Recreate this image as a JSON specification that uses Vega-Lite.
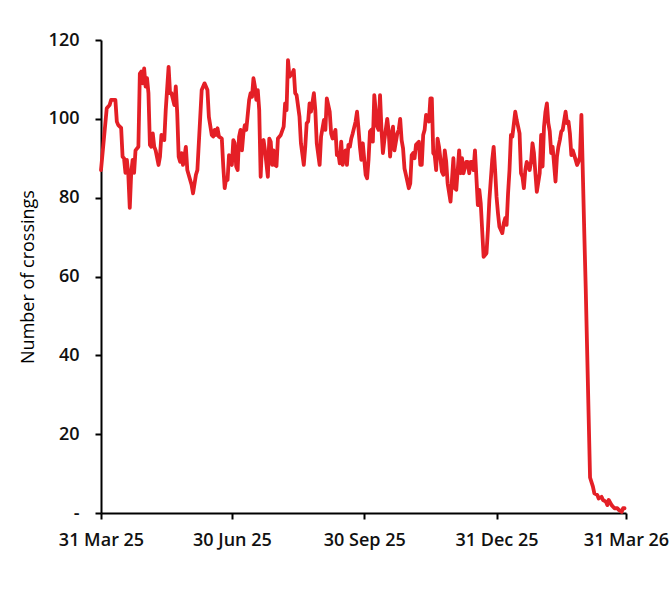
{
  "$schema": "https://vega.github.io/schema/vega-lite/v6.json",
  "autosize": {"type": "none"},
  "width": 525,
  "height": 473,
  "padding": {"left": 101, "top": 40, "right": 44, "bottom": 82},
  "background": "white",
  "config": {
    "view": {"stroke": null},
    "font": "Open Sans",
    "axis": {
      "grid": false,
      "domainColor": "#000000",
      "domainWidth": 2,
      "tickColor": "#000000",
      "tickWidth": 2,
      "tickSize": 6,
      "labelFont": "Open Sans",
      "labelFontSize": 18,
      "labelFontWeight": 600,
      "labelColor": "#111111",
      "titleFont": "Open Sans",
      "titleFontSize": 18,
      "titleFontWeight": "normal",
      "titleColor": "#000000"
    }
  },
  "data": {
    "values": [
      {"date": "2025-03-31", "crossings": 87},
      {"date": "2025-04-04", "crossings": 102.7},
      {"date": "2025-04-06", "crossings": 103.5},
      {"date": "2025-04-07", "crossings": 104.8},
      {"date": "2025-04-10", "crossings": 104.8},
      {"date": "2025-04-11", "crossings": 99.3},
      {"date": "2025-04-12", "crossings": 98.4},
      {"date": "2025-04-14", "crossings": 97.7},
      {"date": "2025-04-15", "crossings": 90.4},
      {"date": "2025-04-16", "crossings": 90},
      {"date": "2025-04-17", "crossings": 86.3},
      {"date": "2025-04-18", "crossings": 89.6},
      {"date": "2025-04-19", "crossings": 85.8},
      {"date": "2025-04-20", "crossings": 77.4},
      {"date": "2025-04-21", "crossings": 86.3},
      {"date": "2025-04-22", "crossings": 89.6},
      {"date": "2025-04-23", "crossings": 86.3},
      {"date": "2025-04-24", "crossings": 92},
      {"date": "2025-04-26", "crossings": 92.9},
      {"date": "2025-04-27", "crossings": 111.5},
      {"date": "2025-04-28", "crossings": 112},
      {"date": "2025-04-29", "crossings": 109},
      {"date": "2025-04-30", "crossings": 112.8},
      {"date": "2025-05-01", "crossings": 108.2},
      {"date": "2025-05-02", "crossings": 110.3},
      {"date": "2025-05-03", "crossings": 106.5},
      {"date": "2025-05-04", "crossings": 93.4},
      {"date": "2025-05-05", "crossings": 92.9},
      {"date": "2025-05-06", "crossings": 96.3},
      {"date": "2025-05-07", "crossings": 92.9},
      {"date": "2025-05-08", "crossings": 92},
      {"date": "2025-05-10", "crossings": 88.3},
      {"date": "2025-05-11", "crossings": 90.4},
      {"date": "2025-05-12", "crossings": 95.9},
      {"date": "2025-05-14", "crossings": 94.6},
      {"date": "2025-05-15", "crossings": 102.2},
      {"date": "2025-05-17", "crossings": 113.2},
      {"date": "2025-05-18", "crossings": 106.5},
      {"date": "2025-05-19", "crossings": 106.5},
      {"date": "2025-05-21", "crossings": 103.5},
      {"date": "2025-05-22", "crossings": 108.2},
      {"date": "2025-05-23", "crossings": 101.4},
      {"date": "2025-05-24", "crossings": 90.4},
      {"date": "2025-05-25", "crossings": 89.1},
      {"date": "2025-05-26", "crossings": 91.3},
      {"date": "2025-05-27", "crossings": 88.3},
      {"date": "2025-05-28", "crossings": 90.4},
      {"date": "2025-05-29", "crossings": 92.9},
      {"date": "2025-05-30", "crossings": 87},
      {"date": "2025-06-02", "crossings": 83.2},
      {"date": "2025-06-03", "crossings": 81.1},
      {"date": "2025-06-05", "crossings": 85.8},
      {"date": "2025-06-06", "crossings": 87},
      {"date": "2025-06-08", "crossings": 100.5},
      {"date": "2025-06-09", "crossings": 107.3},
      {"date": "2025-06-11", "crossings": 109},
      {"date": "2025-06-13", "crossings": 107.3},
      {"date": "2025-06-14", "crossings": 100.5},
      {"date": "2025-06-16", "crossings": 95.9},
      {"date": "2025-06-17", "crossings": 95.5},
      {"date": "2025-06-18", "crossings": 97.2},
      {"date": "2025-06-19", "crossings": 95.9},
      {"date": "2025-06-20", "crossings": 97.6},
      {"date": "2025-06-21", "crossings": 95.5},
      {"date": "2025-06-23", "crossings": 95},
      {"date": "2025-06-24", "crossings": 87.9},
      {"date": "2025-06-25", "crossings": 82.4},
      {"date": "2025-06-26", "crossings": 84.9},
      {"date": "2025-06-27", "crossings": 84.5},
      {"date": "2025-06-28", "crossings": 90.8},
      {"date": "2025-06-30", "crossings": 88.3},
      {"date": "2025-07-01", "crossings": 94.6},
      {"date": "2025-07-02", "crossings": 93.8},
      {"date": "2025-07-03", "crossings": 87.9},
      {"date": "2025-07-04", "crossings": 87},
      {"date": "2025-07-05", "crossings": 95.5},
      {"date": "2025-07-06", "crossings": 97.2},
      {"date": "2025-07-07", "crossings": 92},
      {"date": "2025-07-08", "crossings": 96.3},
      {"date": "2025-07-09", "crossings": 98.4},
      {"date": "2025-07-10", "crossings": 97.2},
      {"date": "2025-07-12", "crossings": 104.8},
      {"date": "2025-07-13", "crossings": 106.5},
      {"date": "2025-07-14", "crossings": 105.6},
      {"date": "2025-07-15", "crossings": 110.3},
      {"date": "2025-07-16", "crossings": 108.2},
      {"date": "2025-07-17", "crossings": 104.8},
      {"date": "2025-07-18", "crossings": 107.3},
      {"date": "2025-07-19", "crossings": 102.2},
      {"date": "2025-07-20", "crossings": 85.3},
      {"date": "2025-07-21", "crossings": 94.2},
      {"date": "2025-07-22", "crossings": 94.6},
      {"date": "2025-07-23", "crossings": 92},
      {"date": "2025-07-25", "crossings": 85.3},
      {"date": "2025-07-26", "crossings": 95},
      {"date": "2025-07-27", "crossings": 94.2},
      {"date": "2025-07-28", "crossings": 88.3},
      {"date": "2025-07-29", "crossings": 92},
      {"date": "2025-07-30", "crossings": 88.3},
      {"date": "2025-07-31", "crossings": 88},
      {"date": "2025-08-01", "crossings": 95},
      {"date": "2025-08-03", "crossings": 95.9},
      {"date": "2025-08-05", "crossings": 98},
      {"date": "2025-08-06", "crossings": 103.9},
      {"date": "2025-08-07", "crossings": 102.2},
      {"date": "2025-08-08", "crossings": 114.9},
      {"date": "2025-08-09", "crossings": 110.7},
      {"date": "2025-08-11", "crossings": 111.5},
      {"date": "2025-08-12", "crossings": 112.4},
      {"date": "2025-08-13", "crossings": 106.5},
      {"date": "2025-08-14", "crossings": 106},
      {"date": "2025-08-16", "crossings": 100.5},
      {"date": "2025-08-17", "crossings": 93.8},
      {"date": "2025-08-19", "crossings": 88.3},
      {"date": "2025-08-20", "crossings": 92.9},
      {"date": "2025-08-21", "crossings": 98.9},
      {"date": "2025-08-22", "crossings": 99.3},
      {"date": "2025-08-23", "crossings": 103.9},
      {"date": "2025-08-24", "crossings": 101.8},
      {"date": "2025-08-26", "crossings": 106.5},
      {"date": "2025-08-27", "crossings": 102.2},
      {"date": "2025-08-28", "crossings": 93.8},
      {"date": "2025-08-30", "crossings": 88.3},
      {"date": "2025-08-31", "crossings": 95.5},
      {"date": "2025-09-02", "crossings": 99.7},
      {"date": "2025-09-03", "crossings": 97.2},
      {"date": "2025-09-04", "crossings": 105.2},
      {"date": "2025-09-06", "crossings": 101.8},
      {"date": "2025-09-07", "crossings": 96.3},
      {"date": "2025-09-08", "crossings": 95},
      {"date": "2025-09-10", "crossings": 97.2},
      {"date": "2025-09-11", "crossings": 90.8},
      {"date": "2025-09-12", "crossings": 91.3},
      {"date": "2025-09-13", "crossings": 88.7},
      {"date": "2025-09-14", "crossings": 94.2},
      {"date": "2025-09-15", "crossings": 88.3},
      {"date": "2025-09-17", "crossings": 92},
      {"date": "2025-09-18", "crossings": 88.3},
      {"date": "2025-09-19", "crossings": 93.4},
      {"date": "2025-09-20", "crossings": 92.9},
      {"date": "2025-09-21", "crossings": 95},
      {"date": "2025-09-22", "crossings": 96.3},
      {"date": "2025-09-24", "crossings": 99.3},
      {"date": "2025-09-25", "crossings": 101.8},
      {"date": "2025-09-26", "crossings": 97.6},
      {"date": "2025-09-27", "crossings": 92.9},
      {"date": "2025-09-28", "crossings": 89.6},
      {"date": "2025-09-29", "crossings": 93.8},
      {"date": "2025-10-01", "crossings": 85.8},
      {"date": "2025-10-02", "crossings": 84.9},
      {"date": "2025-10-03", "crossings": 89.6},
      {"date": "2025-10-04", "crossings": 96.8},
      {"date": "2025-10-05", "crossings": 97.2},
      {"date": "2025-10-06", "crossings": 94.2},
      {"date": "2025-10-07", "crossings": 106},
      {"date": "2025-10-09", "crossings": 98},
      {"date": "2025-10-10", "crossings": 97.2},
      {"date": "2025-10-11", "crossings": 106},
      {"date": "2025-10-12", "crossings": 97.2},
      {"date": "2025-10-13", "crossings": 91.3},
      {"date": "2025-10-14", "crossings": 94.6},
      {"date": "2025-10-16", "crossings": 100},
      {"date": "2025-10-17", "crossings": 96.8},
      {"date": "2025-10-18", "crossings": 90.4},
      {"date": "2025-10-19", "crossings": 95.5},
      {"date": "2025-10-20", "crossings": 98},
      {"date": "2025-10-21", "crossings": 92},
      {"date": "2025-10-23", "crossings": 96.3},
      {"date": "2025-10-24", "crossings": 97.2},
      {"date": "2025-10-25", "crossings": 100},
      {"date": "2025-10-26", "crossings": 94.6},
      {"date": "2025-10-27", "crossings": 92.5},
      {"date": "2025-10-28", "crossings": 87.4},
      {"date": "2025-10-29", "crossings": 85.8},
      {"date": "2025-10-31", "crossings": 82.4},
      {"date": "2025-11-01", "crossings": 83.6},
      {"date": "2025-11-02", "crossings": 90.8},
      {"date": "2025-11-03", "crossings": 91.3},
      {"date": "2025-11-04", "crossings": 90},
      {"date": "2025-11-05", "crossings": 93.4},
      {"date": "2025-11-07", "crossings": 94.2},
      {"date": "2025-11-08", "crossings": 88.3},
      {"date": "2025-11-09", "crossings": 88.3},
      {"date": "2025-11-10", "crossings": 95.9},
      {"date": "2025-11-11", "crossings": 97.2},
      {"date": "2025-11-12", "crossings": 101},
      {"date": "2025-11-14", "crossings": 99.3},
      {"date": "2025-11-15", "crossings": 105.2},
      {"date": "2025-11-16", "crossings": 105.2},
      {"date": "2025-11-17", "crossings": 91.3},
      {"date": "2025-11-18", "crossings": 90.8},
      {"date": "2025-11-19", "crossings": 87},
      {"date": "2025-11-20", "crossings": 95},
      {"date": "2025-11-21", "crossings": 92.9},
      {"date": "2025-11-23", "crossings": 86.6},
      {"date": "2025-11-24", "crossings": 85.8},
      {"date": "2025-11-25", "crossings": 92},
      {"date": "2025-11-26", "crossings": 89.1},
      {"date": "2025-11-27", "crossings": 83.6},
      {"date": "2025-11-29", "crossings": 79},
      {"date": "2025-11-30", "crossings": 84.5},
      {"date": "2025-12-01", "crossings": 90},
      {"date": "2025-12-02", "crossings": 82.4},
      {"date": "2025-12-03", "crossings": 82},
      {"date": "2025-12-05", "crossings": 92},
      {"date": "2025-12-06", "crossings": 86.2},
      {"date": "2025-12-07", "crossings": 90},
      {"date": "2025-12-08", "crossings": 86.2},
      {"date": "2025-12-10", "crossings": 89.1},
      {"date": "2025-12-11", "crossings": 89.1},
      {"date": "2025-12-12", "crossings": 86.2},
      {"date": "2025-12-13", "crossings": 89.1},
      {"date": "2025-12-14", "crossings": 89.1},
      {"date": "2025-12-15", "crossings": 87},
      {"date": "2025-12-16", "crossings": 92},
      {"date": "2025-12-18", "crossings": 78.1},
      {"date": "2025-12-19", "crossings": 82},
      {"date": "2025-12-20", "crossings": 78.6},
      {"date": "2025-12-21", "crossings": 71.8},
      {"date": "2025-12-22", "crossings": 65},
      {"date": "2025-12-24", "crossings": 65.9},
      {"date": "2025-12-25", "crossings": 71.8},
      {"date": "2025-12-26", "crossings": 79.4},
      {"date": "2025-12-28", "crossings": 89.6},
      {"date": "2025-12-29", "crossings": 92.9},
      {"date": "2025-12-30", "crossings": 87},
      {"date": "2025-12-31", "crossings": 80.2},
      {"date": "2026-01-01", "crossings": 76},
      {"date": "2026-01-02", "crossings": 72.6},
      {"date": "2026-01-04", "crossings": 71},
      {"date": "2026-01-05", "crossings": 73.5},
      {"date": "2026-01-06", "crossings": 74.8},
      {"date": "2026-01-07", "crossings": 73.1},
      {"date": "2026-01-08", "crossings": 81.1},
      {"date": "2026-01-09", "crossings": 87},
      {"date": "2026-01-10", "crossings": 95.9},
      {"date": "2026-01-11", "crossings": 95.5},
      {"date": "2026-01-13", "crossings": 101.8},
      {"date": "2026-01-14", "crossings": 99.7},
      {"date": "2026-01-15", "crossings": 98},
      {"date": "2026-01-16", "crossings": 96.3},
      {"date": "2026-01-17", "crossings": 86.2},
      {"date": "2026-01-18", "crossings": 85.3},
      {"date": "2026-01-19", "crossings": 82.4},
      {"date": "2026-01-20", "crossings": 87},
      {"date": "2026-01-21", "crossings": 89.1},
      {"date": "2026-01-23", "crossings": 87},
      {"date": "2026-01-24", "crossings": 89.1},
      {"date": "2026-01-25", "crossings": 93.8},
      {"date": "2026-01-26", "crossings": 91.3},
      {"date": "2026-01-27", "crossings": 86.2},
      {"date": "2026-01-28", "crossings": 81.5},
      {"date": "2026-01-30", "crossings": 86.2},
      {"date": "2026-01-31", "crossings": 95.9},
      {"date": "2026-02-01", "crossings": 87.9},
      {"date": "2026-02-02", "crossings": 98},
      {"date": "2026-02-03", "crossings": 101.8},
      {"date": "2026-02-04", "crossings": 103.9},
      {"date": "2026-02-05", "crossings": 98.9},
      {"date": "2026-02-06", "crossings": 96.8},
      {"date": "2026-02-07", "crossings": 91.3},
      {"date": "2026-02-08", "crossings": 92.9},
      {"date": "2026-02-10", "crossings": 84.1},
      {"date": "2026-02-11", "crossings": 90.4},
      {"date": "2026-02-12", "crossings": 92.9},
      {"date": "2026-02-13", "crossings": 94.6},
      {"date": "2026-02-14", "crossings": 96.8},
      {"date": "2026-02-15", "crossings": 97.2},
      {"date": "2026-02-17", "crossings": 101.8},
      {"date": "2026-02-18", "crossings": 98.9},
      {"date": "2026-02-19", "crossings": 99.3},
      {"date": "2026-02-20", "crossings": 96.3},
      {"date": "2026-02-21", "crossings": 90.8},
      {"date": "2026-02-22", "crossings": 92},
      {"date": "2026-02-24", "crossings": 89.6},
      {"date": "2026-02-25", "crossings": 88.3},
      {"date": "2026-02-26", "crossings": 89.1},
      {"date": "2026-02-27", "crossings": 90.4},
      {"date": "2026-02-28", "crossings": 101},
      {"date": "2026-03-01", "crossings": 86},
      {"date": "2026-03-02", "crossings": 71},
      {"date": "2026-03-03", "crossings": 57},
      {"date": "2026-03-04", "crossings": 41},
      {"date": "2026-03-05", "crossings": 25},
      {"date": "2026-03-06", "crossings": 9},
      {"date": "2026-03-08", "crossings": 6.7},
      {"date": "2026-03-09", "crossings": 5},
      {"date": "2026-03-11", "crossings": 4.6},
      {"date": "2026-03-12", "crossings": 3.7},
      {"date": "2026-03-14", "crossings": 4.1},
      {"date": "2026-03-15", "crossings": 3.3},
      {"date": "2026-03-17", "crossings": 2.9},
      {"date": "2026-03-18", "crossings": 2},
      {"date": "2026-03-19", "crossings": 3.3},
      {"date": "2026-03-21", "crossings": 2},
      {"date": "2026-03-22", "crossings": 1.6},
      {"date": "2026-03-23", "crossings": 1.2},
      {"date": "2026-03-25", "crossings": 1.2},
      {"date": "2026-03-26", "crossings": 0.8},
      {"date": "2026-03-28", "crossings": 0.3},
      {"date": "2026-03-29", "crossings": 1.2},
      {"date": "2026-03-30", "crossings": 1.2}
    ]
  },
  "mark": {"type": "line", "color": "#e41f26", "strokeWidth": 3.8, "strokeJoin": "round", "strokeCap": "round", "clip": false},
  "encoding": {
    "x": {
      "field": "date",
      "type": "temporal",
      "scale": {
        "type": "utc",
        "domain": [
          {"year": 2025, "month": 3, "date": 31, "utc": true},
          {"year": 2026, "month": 3, "date": 31, "utc": true}
        ]
      },
      "axis": {
        "title": null,
        "labelExpr": "utcFormat(datum.value, '%d %b %y')",
        "values": [
          {"year": 2025, "month": 3, "date": 31, "utc": true},
          {"year": 2025, "month": 6, "date": 30, "utc": true},
          {"year": 2025, "month": 9, "date": 30, "utc": true},
          {"year": 2025, "month": 12, "date": 31, "utc": true},
          {"year": 2026, "month": 3, "date": 31, "utc": true}
        ],
        "labelPadding": 12,
        "labelFlush": false,
        "labelOverlap": false
      }
    },
    "y": {
      "field": "crossings",
      "type": "quantitative",
      "scale": {"domain": [0, 120], "nice": false, "zero": true},
      "axis": {
        "title": "Number of crossings",
        "values": [0, 20, 40, 60, 80, 100, 120],
        "labelExpr": "datum.value === 0 ? '-' : datum.label",
        "labelPadding": 16,
        "titlePadding": 11
      }
    }
  }
}
